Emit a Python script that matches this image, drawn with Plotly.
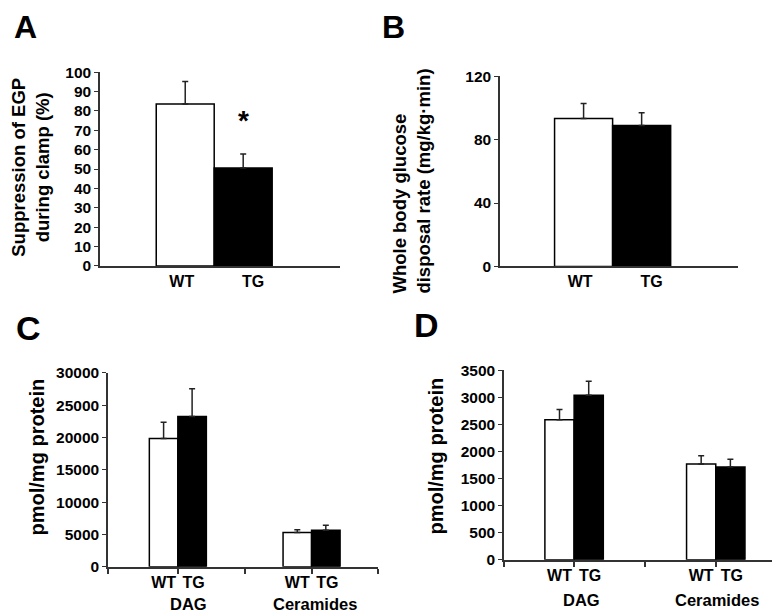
import plotly.graph_objects as go

# ---- data ----
genotypes = ["WT", "TG"]

egp_suppression = [83.5, 50.5]        # panel A (%)
egp_err = [11.7, 7.2]

glucose_disposal = [93.3, 89.0]       # panel B (mg/kg·min)
glucose_err = [9.5, 8.0]

lipid_groups = ["DAG", "Ceramides"]
liver_wt = [19850, 5300]              # panel C (pmol/mg protein)
liver_wt_err = [2520, 450]
liver_tg = [23250, 5650]
liver_tg_err = [4310, 790]

muscle_wt = [2590, 1770]              # panel D (pmol/mg protein)
muscle_wt_err = [190, 155]
muscle_tg = [3040, 1715]
muscle_tg_err = [260, 145]

W, H = 780, 615
FONT = "Arial, Liberation Sans, sans-serif"
AXIS_COLOR = "#333333"
fill = {"WT": "white", "TG": "black"}


def px_x(p):
    return p / W


def px_y(p):
    return 1 - p / H


def bold(s):
    return "<b>" + s + "</b>"


def bar(x, y, err, name, axis_id):
    return go.Bar(
        x=x, y=y, width=1.0,
        marker=dict(color=fill[name], line=dict(color="black", width=1.5)),
        error_y=dict(type="data", symmetric=False, array=err,
                     arrayminus=[0] * len(err), color="#222222",
                     thickness=1.5, width=3),
        xaxis="x" + axis_id, yaxis="y" + axis_id,
        showlegend=False, hoverinfo="y",
    )


fig = go.Figure()

# panels A and B: single pair of bars
fig.add_trace(bar([0], [egp_suppression[0]], [egp_err[0]], "WT", ""))
fig.add_trace(bar([1], [egp_suppression[1]], [egp_err[1]], "TG", ""))
fig.add_trace(bar([0], [glucose_disposal[0]], [glucose_err[0]], "WT", "2"))
fig.add_trace(bar([1], [glucose_disposal[1]], [glucose_err[1]], "TG", "2"))

# panels C and D: grouped bars
c_wt_pos = [0, 4.69]
d_wt_pos = [0, 4.85]
fig.add_trace(bar(c_wt_pos, liver_wt, liver_wt_err, "WT", "3"))
fig.add_trace(bar([p + 1 for p in c_wt_pos], liver_tg, liver_tg_err, "TG", "3"))
fig.add_trace(bar(d_wt_pos, muscle_wt, muscle_wt_err, "WT", "4"))
fig.add_trace(bar([p + 1 for p in d_wt_pos], muscle_tg, muscle_tg_err, "TG", "4"))

tick_font = dict(family=FONT, size=15.5, color="black")

common_y = dict(showgrid=False, zeroline=False, showline=True, linecolor=AXIS_COLOR,
                linewidth=1.5, ticks="outside", ticklen=4, tickcolor=AXIS_COLOR,
                tickfont=tick_font, tickformat="d",
                tickprefix="<b>", ticksuffix="</b>")
common_x = dict(showgrid=False, zeroline=False, showline=True, linecolor=AXIS_COLOR,
                linewidth=1.5, ticks="", tickfont=dict(tick_font, size=16))

# panel pixel boxes: (left, right, top, bottom)
boxes = {
    "": (92, 332, 56.7, 256),
    "2": (492, 730, 61, 256.5),
    "3": (100, 370, 366, 565.5),
    "4": (496, 777, 363.5, 558.3),
}
x_ranges = {"": [-1.47, 2.67], "2": [-1.44, 2.66], "3": [-1.95, 7.52], "4": [-1.90, 7.72]}
y_ranges = {"": [0, 100], "2": [0, 120], "3": [0, 30000], "4": [0, 3500]}
y_dticks = {"": 10, "2": 40, "3": 5000, "4": 500}

layout = dict(
    width=W, height=H, margin=dict(l=0, r=0, t=0, b=0),
    paper_bgcolor="white", plot_bgcolor="white", barmode="overlay",
    font=dict(family=FONT, color="black"),
)
for k, (l, r, t, b) in boxes.items():
    xa = dict(common_x, domain=[px_x(l), px_x(r)], range=x_ranges[k],
              anchor="y" + k)
    ya = dict(common_y, domain=[px_y(b), px_y(t)], range=y_ranges[k],
              dtick=y_dticks[k], tick0=0, anchor="x" + k)
    if k in ("", "2"):
        xa.update(tickvals=[-0.06, 1.17], ticktext=[bold(g) for g in genotypes])
    else:
        wt_pos = c_wt_pos if k == "3" else d_wt_pos
        lo, hi = x_ranges[k]
        centers = [p + 0.5 for p in wt_pos]
        xa.update(tickvals=[wt_pos[0], wt_pos[0] + 1.05, wt_pos[1], wt_pos[1] + 1.05],
                  ticktext=[bold(g) for g in genotypes] * 2,
                  minor=dict(tickvals=[lo, centers[0], (centers[0] + centers[1]) / 2,
                                       centers[1], hi],
                             ticks="outside", ticklen=5, tickcolor=AXIS_COLOR,
                             tickwidth=1.5))
    layout["xaxis" + k] = xa
    layout["yaxis" + k] = ya

fig.update_layout(**layout)

anns = []
# panel letters
letter_font = dict(family=FONT, size=32, color="black")
for letter, cx in (("A", 17), ("B", 385)):
    anns.append(dict(text=bold(letter), x=px_x(cx), y=1, xref="paper", yref="paper",
                     xanchor="center", yanchor="top", yshift=10, showarrow=False,
                     font=letter_font))
for letter, (cx, cy) in (("C", (20, 320)), ("D", (418, 317))):
    anns.append(dict(text=bold(letter), x=px_x(cx), y=px_y(cy), xref="paper", yref="paper",
                     xanchor="center", yanchor="middle", showarrow=False,
                     font=dict(letter_font, size=34)))
# y-axis titles
anns.append(dict(text=bold("Suppression of EGP<br>during clamp (%)"), x=px_x(23), y=px_y(155),
                 xref="paper", yref="paper", textangle=-90, showarrow=False,
                 xanchor="center", yanchor="middle",
                 font=dict(family=FONT, size=18.5, color="black")))
anns.append(dict(text=bold("Whole body glucose<br>disposal rate (mg/kg·min)"), x=px_x(404),
                 y=px_y(287), xref="paper", yref="paper", textangle=-90, showarrow=False,
                 align="left", xanchor="center", yanchor="bottom",
                 font=dict(family=FONT, size=18.5, color="black")))
for cx, cy in ((29, 453), (428, 452)):
    anns.append(dict(text=bold("pmol/mg protein"), x=px_x(cx), y=px_y(cy),
                     xref="paper", yref="paper", textangle=-90, showarrow=False,
                     xanchor="center", yanchor="middle",
                     font=dict(family=FONT, size=20, color="black")))
# group names
for axis_id, xs, cy in (("3", [0.89, 5.3], 604), ("4", [0.77, 5.39], 600)):
    for g, gx in zip(lipid_groups, xs):
        anns.append(dict(text=bold(g), x=gx, y=px_y(cy), xref="x" + axis_id, yref="paper",
                         xanchor="center", yanchor="middle", showarrow=False,
                         font=dict(family=FONT, size=16.5, color="black")))
# significance star
anns.append(dict(text=bold("*"), x=1, y=75, xref="x", yref="y", showarrow=False,
                 xanchor="center", yanchor="middle",
                 font=dict(family=FONT, size=28, color="black")))

fig.update_layout(annotations=anns)

fig.write_html("out.html")
